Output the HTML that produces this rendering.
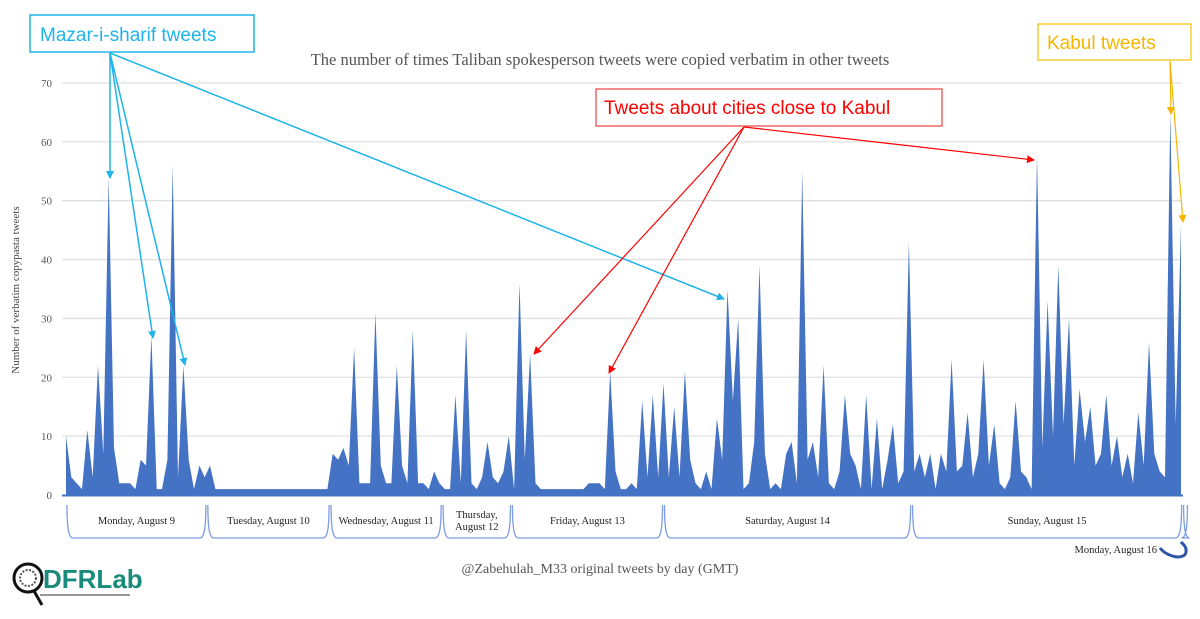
<!DOCTYPE html>
<html><head><meta charset="utf-8"><style>
html,body{margin:0;padding:0;background:#fff;}
svg{display:block;}
.serif{font-family:"Liberation Serif","DejaVu Serif",serif;}
.sans{font-family:"Liberation Sans","DejaVu Sans",sans-serif;}
</style></head><body>
<svg id="chart" width="1200" height="619" viewBox="0 0 1200 619">
<defs>
<marker id="mb" markerWidth="8" markerHeight="8" refX="7" refY="4" orient="auto" markerUnits="userSpaceOnUse"><path d="M0,0 L8,4 L0,8 Z" fill="#1fb3ea"/></marker>
<marker id="mr" markerWidth="8" markerHeight="8" refX="7" refY="4" orient="auto" markerUnits="userSpaceOnUse"><path d="M0,0 L8,4 L0,8 Z" fill="#f00"/></marker>
<marker id="my" markerWidth="8" markerHeight="8" refX="7" refY="4" orient="auto" markerUnits="userSpaceOnUse"><path d="M0,0 L8,4 L0,8 Z" fill="#f7b500"/></marker>
</defs>
<g id="grid"></g>
<g id="area"></g>
<text class="serif" x="600" y="65" text-anchor="middle" font-size="16.5" fill="#555">The number of times Taliban spokesperson tweets were copied verbatim in other tweets</text>
<text class="serif" transform="translate(19,290) rotate(-90)" text-anchor="middle" font-size="11" fill="#444">Number of verbatim copypasta tweets</text>
<g id="days"></g>
<text class="serif" x="1157" y="553" text-anchor="end" font-size="10.5" fill="#222">Monday, August 16</text>
<path d="M1160,548 C1168,558 1185,560 1186,552 C1187,547 1183,544 1181,542" fill="none" stroke="#2f55a8" stroke-width="3"/>
<text class="serif" x="600" y="573" text-anchor="middle" font-size="14" fill="#555">@Zabehulah_M33 original tweets by day (GMT)</text>
<g>
<circle cx="28" cy="578" r="14" fill="none" stroke="#111" stroke-width="3"/>
<circle cx="28" cy="578" r="8" fill="none" stroke="#555" stroke-width="2" stroke-dasharray="2 1.5"/>
<line x1="34" y1="591" x2="42" y2="605" stroke="#111" stroke-width="3"/>
<text class="sans" x="43" y="588" font-size="26" font-weight="bold" fill="#1a8a7a">DFRLab</text>
<line x1="40" y1="595" x2="130" y2="595" stroke="#777" stroke-width="1.5"/>
</g>
<g>
<rect x="30" y="15" width="224" height="37" fill="#fff" stroke="#1fb3ea" stroke-width="1.5"/>
<text class="sans" x="40" y="41" font-size="19" fill="#1fb3ea">Mazar-i-sharif tweets</text>
<line x1="110" y1="53" x2="110" y2="178" stroke="#1fb3ea" stroke-width="1.5" marker-end="url(#mb)"/>
<line x1="110" y1="53" x2="153" y2="338" stroke="#1fb3ea" stroke-width="1.5" marker-end="url(#mb)"/>
<line x1="110" y1="53" x2="185" y2="365" stroke="#1fb3ea" stroke-width="1.5" marker-end="url(#mb)"/>
<line x1="110" y1="53" x2="724" y2="299" stroke="#1fb3ea" stroke-width="1.5" marker-end="url(#mb)"/>
</g>
<g>
<rect x="596" y="89" width="346" height="37" fill="#fff" stroke="#f04040" stroke-width="1.2"/>
<text class="sans" x="604" y="114" font-size="19" fill="#f00">Tweets about cities close to Kabul</text>
<line x1="744" y1="127" x2="534" y2="354" stroke="#f00" stroke-width="1.2" marker-end="url(#mr)"/>
<line x1="744" y1="127" x2="609" y2="373" stroke="#f00" stroke-width="1.2" marker-end="url(#mr)"/>
<line x1="744" y1="127" x2="1034" y2="160" stroke="#f00" stroke-width="1.2" marker-end="url(#mr)"/>
</g>
<g>
<rect x="1038" y="24" width="153" height="36" fill="#fff" stroke="#f7c000" stroke-width="1.2"/>
<text class="sans" x="1047" y="49" font-size="19" fill="#f7b500">Kabul tweets</text>
<line x1="1170" y1="61" x2="1171" y2="114" stroke="#f7b500" stroke-width="1.2" marker-end="url(#my)"/>
<line x1="1170" y1="61" x2="1183" y2="222" stroke="#f7b500" stroke-width="1.2" marker-end="url(#my)"/>
</g>
</svg>
<script>
const yTicks = [0,10,20,30,40,50,60,70];
const values = [10,3,2,1,11,3,22,7,54,8,2,2,2,1,6,5,27,1,1,6,56,3,22,6,1,5,3,5,1,
1,1,1,1,1,1,1,1,1,1,1,1,1,1,1,1,1,1,1,1,1,
7,6,8,5,25,2,2,2,31,5,2,2,22,5,2,28,2,2,1,4,2,1,1,17,2,28,2,1,3,9,3,2,4,10,1,36,6,24,2,1,
1,1,1,1,1,1,1,1,
2,2,2,1,21,4,1,1,2,1,16,3,17,3,19,3,15,3,21,6,2,1,4,1,13,6,35,16,30,1,2,9,39,7,1,2,1,7,9,2,55,6,9,3,22,2,1,4,17,7,5,1,17,1,13,1,6,12,2,4,43,4,7,3,7,1,7,4,23,4,5,14,3,7,23,5,12,2,1,3,16,4,3,1,58,8,33,10,39,12,30,5,18,9,15,5,7,17,5,10,3,7,2,14,5,26,7,4,3,65,12,46];
const dayLabels = ["Monday, August 9","Tuesday, August 10","Wednesday, August 11","Thursday,|August 12","Friday, August 13","Saturday, August 14","Sunday, August 15",""];
const dayStarts = [0,26.4,49.5,70.5,83.5,112,158.5,209.3,210.4];
const NS="http://www.w3.org/2000/svg";
const X0=66,X1=1181,Y0=495,YPER=5.886;
function xs(i){return X0+i*(X1-X0)/(values.length-1);}
function ys(v){return Y0-v*YPER;}
const grid=document.getElementById('grid');
yTicks.forEach(t=>{
  if(t>0){const l=document.createElementNS(NS,'line');
  l.setAttribute('x1',62);l.setAttribute('x2',1181);l.setAttribute('y1',ys(t));l.setAttribute('y2',ys(t));
  l.setAttribute('stroke','#e0e0e0');l.setAttribute('stroke-width','1.3');
  
  
  grid.appendChild(l);}
  const tx=document.createElementNS(NS,'text');
  tx.setAttribute('x',52);tx.setAttribute('y',ys(t)+4);tx.setAttribute('text-anchor','end');
  tx.setAttribute('font-size','11');tx.setAttribute('fill','#555');tx.setAttribute('class','serif');
  tx.textContent=t;
  
  
  grid.appendChild(tx);
});
let d='M'+xs(0)+','+Y0;
values.forEach((v,i)=>{d+=' L'+xs(i).toFixed(1)+','+ys(v).toFixed(1);});
d+=' L'+xs(values.length-1)+','+Y0+' Z';
const p=document.createElementNS(NS,'path');
p.setAttribute('d',d);p.setAttribute('fill','#4472c4');


document.getElementById('area').appendChild(p);
const base=document.createElementNS(NS,'line');
base.setAttribute('x1',62);base.setAttribute('x2',1183);base.setAttribute('y1',Y0+0.5);base.setAttribute('y2',Y0+0.5);
base.setAttribute('stroke','#4472c4');base.setAttribute('stroke-width','2');


document.getElementById('area').appendChild(base);
const days=document.getElementById('days');
for(let k=0;k<dayStarts.length-1;k++){
  const a=xs(dayStarts[k])+1,b=xs(dayStarts[k+1])-1;
  const br=document.createElementNS(NS,'path');
  br.setAttribute('d',`M${a},505 C${a},530 ${a+2},538 ${a+6},538 L${b-6},538 C${b-2},538 ${b},530 ${b},505`);
  br.setAttribute('fill','none');br.setAttribute('stroke','#7d9ee0');br.setAttribute('stroke-width','1.3');
  
  
  days.appendChild(br);
  const lab=dayLabels[k];
  if(lab){
    const parts=lab.split('|');
    parts.forEach((s,j)=>{
      const t=document.createElementNS(NS,'text');
      t.setAttribute('x',(a+b)/2);t.setAttribute('y',parts.length>1?518+j*12:524);
      t.setAttribute('text-anchor','middle');t.setAttribute('font-size','10.5');t.setAttribute('fill','#222');t.setAttribute('class','serif');
      t.textContent=s;
      
      
      days.appendChild(t);
    });
  }
}
</script>
</body></html>
